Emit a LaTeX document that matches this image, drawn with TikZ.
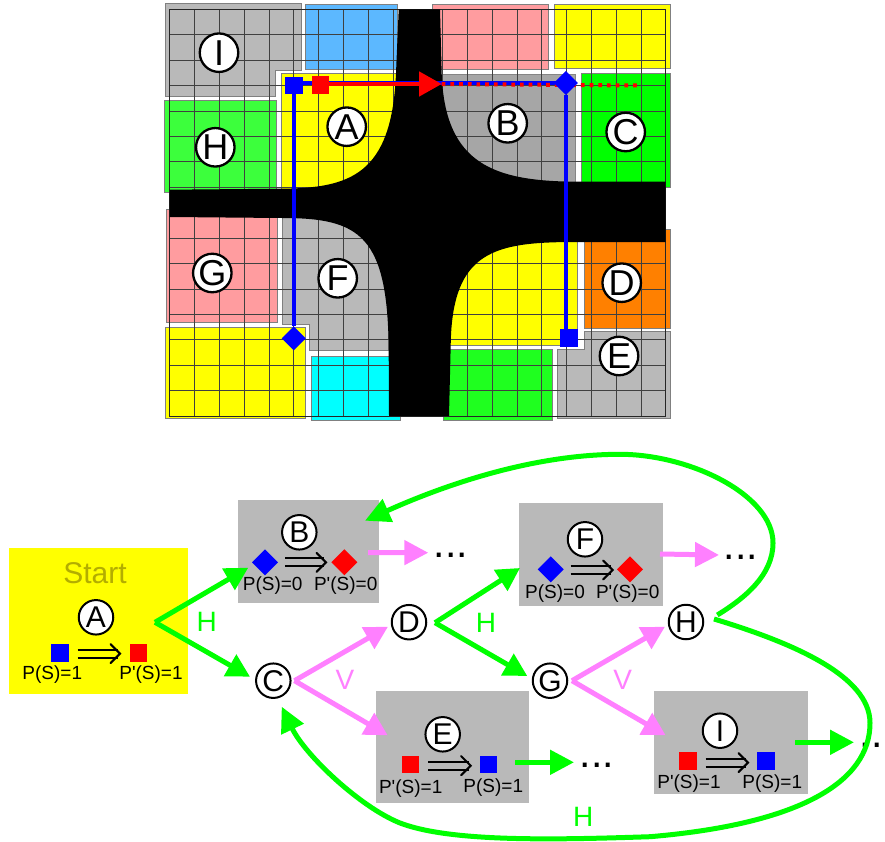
\documentclass[tikz,border=0pt]{standalone}
\usepackage{fontspec}
\setmainfont{Liberation Sans}
\usetikzlibrary{arrows.meta,shapes.geometric}
\definecolor{rgray}{HTML}{B9B9B9}
\definecolor{rgrayd}{HTML}{A6A6A6}
\definecolor{rblue}{HTML}{5CB8FF}
\definecolor{rgreen}{HTML}{3CFF3C}
\definecolor{rgreenb}{HTML}{1FFF1F}
\definecolor{rpink}{HTML}{FF9C9F}
\definecolor{rorange}{HTML}{FF8000}
\definecolor{ryellow}{HTML}{FFFF00}
\definecolor{rcyan}{HTML}{00FFFF}
\definecolor{pgreen}{HTML}{00FF00}
\definecolor{pblue}{HTML}{0000FF}
\definecolor{pred}{HTML}{FF0000}
\definecolor{arpink}{HTML}{FF80FF}
\definecolor{startc}{HTML}{B3AD00}
\newcommand{\fs}[1]{\fontsize{#1}{#1}\selectfont}
\newcommand{\dblarrow}[3]{%
  \draw[black,line width=2pt] (#1,#3-4)--(#2-2,#3-4) (#1,#3+4)--(#2-2,#3+4);
  \draw[black,line width=2.1pt,line cap=round,line join=miter] (#2-9.5,#3-9.5)--(#2,#3)--(#2-9.5,#3+9.5);}
\tikzset{
  region/.style={draw=black!50,line width=.8pt},
  gridline/.style={draw=black!75,line width=.7pt},
  bigcirc/.style={circle,draw=black,fill=white,line width=2.3pt,minimum size=38.5pt,inner sep=0pt,font=\fs{36}},
  smallcirc/.style={circle,draw=black,fill=white,line width=2pt,minimum size=34.5pt,inner sep=0pt,font=\fs{30}},
  bsq/.style={rectangle,fill=pblue,minimum size=17.5pt,inner sep=0pt,outer sep=0pt},
  rsq/.style={rectangle,fill=pred,minimum size=17.5pt,inner sep=0pt,outer sep=0pt},
  bdia/.style={diamond,fill=pblue,minimum width=#1,minimum height=#1,inner sep=0pt,outer sep=0pt},
  rdia/.style={diamond,fill=pred,minimum width=#1,minimum height=#1,inner sep=0pt,outer sep=0pt},
  graybox/.style={rectangle,fill=rgray,inner sep=0pt},
  plabel/.style={inner sep=0pt,font=\fs{19}},
  garrow/.style={draw=pgreen,line width=5pt,-{Triangle[length=24pt,width=24pt]}},
  parrow/.style={draw=arpink,line width=5pt,-{Triangle[length=24pt,width=24pt]}},
  gbranch/.style={draw=pgreen,line width=5pt,-{Triangle[length=23pt,width=24pt]}},
  pbranch/.style={draw=arpink,line width=5pt,-{Triangle[length=23pt,width=24pt]}},
  gcurve/.style={draw=pgreen,line width=5pt,-{Triangle[length=25pt,width=24pt]}},
  edgeH/.style={text=pgreen,inner sep=0pt,font=\fs{28}},
  edgeV/.style={text=arpink,inner sep=0pt,font=\fs{28}},
  more/.style={inner sep=0pt,font=\fs{41}},
}
\begin{document}
\begin{tikzpicture}[x=1pt,y=-1pt]
\useasboundingbox (0,0) rectangle (885,842);
% ---------- coloured regions
\path[region,fill=rgray] (165.3,3.3)--(301.7,3.3)--(301.7,70)--(275.7,70)--(275.7,96.7)--(165.3,96.7)--cycle;
\path[region,fill=rblue] (305.3,4) rectangle (397.7,69.3);
\path[region,fill=rgreen] (164.7,100) rectangle (276.3,192.7);
\path[region,fill=ryellow] (281.3,73.3) rectangle (397,190);
\path[region,fill=rpink] (432.3,4) rectangle (548.7,69.3);
\path[region,fill=ryellow] (554.3,4) rectangle (670.7,68.3);
\path[region,fill=rgrayd,draw=rgrayd!80!black] (438,74) rectangle (575.7,183);
\path[region,fill=pgreen] (581.7,73.3) rectangle (670.7,187.3);
\path[region,fill=rpink] (166,209) rectangle (277.7,322.7);
\path[region,fill=rgray] (282.3,215)--(388.7,215)--(388.7,350.7)--(309,350.7)--(309,324.3)--(282.3,324.3)--cycle;
\path[region,fill=ryellow] (165.3,327.3) rectangle (305.7,418.3);
\path[region,fill=rcyan] (311.3,356) rectangle (400,420);
\path[region,fill=ryellow] (445,240) rectangle (577.3,345.3);
\path[region,fill=rorange] (584.3,229.3) rectangle (670.7,328.3);
\path[region,fill=rgray] (584.3,331.7)--(670.7,331.7)--(670.7,418.3)--(557.3,418.3)--(557.3,349)--(584.3,349)--cycle;
\path[region,fill=rgreenb] (443.3,349) rectangle (552,420.7);
% ---------- grid
\foreach \k in {1,...,19} {\draw[gridline] ({169.7+24.8*\k},9.3)--({169.7+24.8*\k},416);}
\foreach \k in {1,...,15} {\draw[gridline] (169.7,{9.3+25.42*\k})--(665.7,{9.3+25.42*\k});}
\draw[black!85,line width=1pt] (169.7,9.3) rectangle (665.7,416);
% ---------- black crossing
\fill[black] (398.7,9.3)--(440,9.3)--(441.7,74)
  .. controls (445,165) and (495,181) .. (575.7,181.7)
  --(665.7,181.7)--(665.7,242)--(577.3,242)
  .. controls (495,242) and (452,250) .. (450.7,345)
  --(449,416)--(389,416)--(388.7,351.7)
  .. controls (388,235) and (360,218) .. (281.7,218)
  --(169.7,217)--(169.7,189.7)--(281.7,188.7)
  .. controls (350,188) and (392,175) .. (396,73)--cycle;
% ---------- markers on the map
\node[bsq] (mbs) at (294,85.5) {};
\node[bdia=24pt] (mbl) at (293.7,338.3) {};
\node[bsq] (mbr) at (568.8,337.8) {};
\coordinate (cbd) at (565.9,83);
\coordinate (redtip) at (441.7,84);
\coordinate (redend) at (640,85.5);
\draw[pblue,line width=4pt] (mbs.east |- cbd)--(cbd);
\draw[pblue,line width=4pt] (mbs.south -| mbl)--(mbl.north);
\draw[pred,line width=4pt,dash pattern=on 3.7pt off 5pt] (redtip)--(redend);
\node[bdia=24pt] (mbd) at (cbd) {};
\node[rsq] (mrs) at (320.7,85) {};
\draw[pred,line width=4.2pt,-{Triangle[length=22.5pt,width=24pt]}] (mrs.east |- redtip)--(redtip);
\draw[pblue,line width=4pt] (mbd.south)--(mbd.south |- mbr.north);
% ---------- letters on the map
\node[bigcirc] (mI) at (219,52.7) {I};
\node[bigcirc] (mH) at (215.3,147.3) {H};
\node[bigcirc] (mA) at (346.7,126.7) {A};
\node[bigcirc] (mB) at (507.7,123.3) {B};
\node[bigcirc] (mC) at (625.7,132) {C};
\node[bigcirc] (mG) at (212.3,273) {G};
\node[bigcirc] (mF) at (337.7,278.3) {F};
\node[bigcirc] (mD) at (621.7,282.7) {D};
\node[bigcirc] (mE) at (619,356) {E};
% ---------- boxes of the tree
\node[rectangle,fill=ryellow,inner sep=0pt,minimum width=178.7pt,minimum height=145.7pt] (boxA) at (98.3,621.2) {};
\node[graybox,minimum width=141pt,minimum height=103.3pt] (boxB) at (308.8,551.7) {};
\node[graybox,minimum width=143.7pt,minimum height=102.7pt] (boxF) at (591.2,554.7) {};
\node[graybox,minimum width=153pt,minimum height=111.7pt] (boxE) at (452.5,746.8) {};
\node[graybox,minimum width=153.4pt,minimum height=103.3pt] (boxI) at (731,742.7) {};
\node[inner sep=0pt,text=startc,font=\fs{30}] (st) at (95,573.3) {Start};
% state A
\node[smallcirc] (nA) at (96,617.3) {A};
\node[bsq] (aP) at (60,653) {};
\node[rsq] (aQ) at (138.3,653) {};
\dblarrow{77.7}{120}{653.7}
\node[plabel] (lA1) at (52.3,674.3) {P(S)=1};
\node[plabel] (lA2) at (151,674.3) {P\textquotesingle(S)=1};
% state B
\node[smallcirc] (nB) at (299.3,532.3) {B};
\node[bdia=26pt] (bP) at (265,562.3) {};
\node[rdia=26pt] (bQ) at (344.3,562.3) {};
\dblarrow{285}{326}{562.3}
\node[plabel] (lB1) at (272.7,585.7) {P(S)=0};
\node[plabel] (lB2) at (345.7,585.7) {P\textquotesingle(S)=0};
% state F
\node[smallcirc] (nF) at (585,539.3) {F};
\node[bdia=26pt] (fP) at (550.7,569.3) {};
\node[rdia=26pt] (fQ) at (630,569.3) {};
\dblarrow{570.7}{612.7}{570}
\node[plabel] (lF1) at (555,594) {P(S)=0};
\node[plabel] (lF2) at (627.7,594) {P\textquotesingle(S)=0};
% state E
\node[smallcirc] (nE) at (442.7,734.3) {E};
\node[rsq] (eQ) at (410.3,764.7) {};
\node[bsq] (eP) at (488.7,764.7) {};
\dblarrow{428.3}{470.7}{765.7}
\node[plabel] (lE1) at (410.7,788.3) {P\textquotesingle(S)=1};
\node[plabel] (lE2) at (493.3,787.3) {P(S)=1};
% state I
\node[smallcirc] (nI) at (720,730.7) {I};
\node[rsq] (iQ) at (688,761) {};
\node[bsq] (iP) at (766,761) {};
\dblarrow{705.7}{748}{762.7}
\node[plabel] (lI1) at (689,784) {P\textquotesingle(S)=1};
\node[plabel] (lI2) at (772.3,784) {P(S)=1};
% plain tree nodes
\node[smallcirc] (nC) at (273.3,680.7) {C};
\node[smallcirc] (nD) at (409,622.2) {D};
\node[smallcirc] (nG) at (550,680.7) {G};
\node[smallcirc] (nH) at (686,622) {H};
% ---------- continuation dots
\node[more,anchor=center] (d1) at (451,555) {...};
\node[more,anchor=center] (d2) at (741,557) {...};
\node[more,anchor=center] (d3) at (597,765) {...};
\node[more,anchor=center] (d4) at (871,745) {..};
% ---------- free ends of connectors
\coordinate (sA) at (155,622.3);
\coordinate (tB) at (248.3,567.7);
\coordinate (tC) at (250,676.7);
\coordinate (sC) at (294.5,680.7);
\coordinate (tD) at (388,626.7);
\coordinate (tE) at (387.7,735.3);
\coordinate (sD) at (435,622.7);
\coordinate (tF) at (520,568);
\coordinate (tG) at (527.3,676);
\coordinate (sG) at (572,680.7);
\coordinate (tH) at (665,626.7);
\coordinate (tI) at (665.7,735.3);
\coordinate (sB) at (368,552.5);
\coordinate (eB) at (428.3,552.7);
\coordinate (sF) at (660,554);
\coordinate (eF) at (719,555);
\coordinate (sE) at (515,762.3);
\coordinate (eE) at (574,762.3);
\coordinate (sI) at (795,742.3);
\coordinate (eI) at (854,742.3);
\coordinate (hT) at (717.3,615);
\coordinate (hL) at (714,619);
\coordinate (tB2) at (365,520.7);
\coordinate (tC2) at (281.7,706.7);
% ---------- connectors
\draw[gbranch] (sA)--(tB);
\draw[gbranch] (sA)--(tC);
\draw[pbranch] (sC)--(tD);
\draw[pbranch] (sC)--(tE);
\draw[gbranch] (sD)--(tF);
\draw[gbranch] (sD)--(tG);
\draw[pbranch] (sG)--(tH);
\draw[pbranch] (sG)--(tI);
\draw[parrow] (sB)--(eB);
\draw[parrow] (sF)--(eF);
\draw[garrow] (sE)--(eE);
\draw[garrow] (sI)--(eI);
\draw[gcurve] (hT) .. controls (745,598) and (773,575) .. (773,543)
  .. controls (773,495) and (690,454.3) .. (620,454.3)
  .. controls (530,454.3) and (440,487) .. (tB2);
\draw[gcurve] (hL) .. controls (790,642) and (870,675) .. (870,723)
  .. controls (870,782) and (800,824) .. (650,836.7)
  .. controls (550,840) and (450,842) .. (400,823)
  .. controls (360,807) and (305,755) .. (tC2);
% ---------- edge labels
\node[edgeH] (h1) at (206.7,621.7) {H};
\node[edgeH] (h2) at (486,622.7) {H};
\node[edgeH] (h3) at (583.3,816.7) {H};
\node[edgeV] (v1) at (345,680) {V};
\node[edgeV] (v2) at (622.7,680) {V};
\end{tikzpicture}
\end{document}
